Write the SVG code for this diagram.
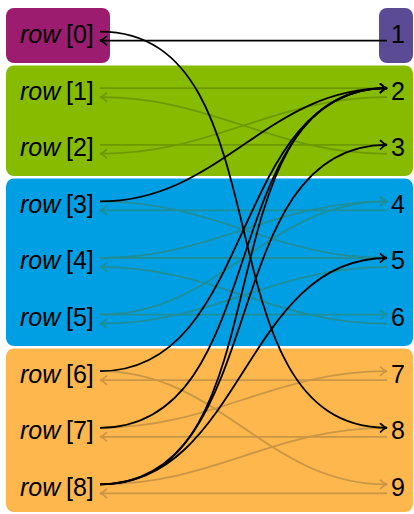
<svg xmlns="http://www.w3.org/2000/svg" width="414" height="514" viewBox="0 0 414 514">
<style>
.lbl{font-family:"Liberation Sans",Arial,sans-serif;font-size:25px;fill:#000}
.it{font-style:italic}
.num{font-family:"Liberation Sans",Arial,sans-serif;font-size:25px;fill:#000;text-anchor:middle}
.c{fill:none;stroke-width:1.8}
.k{stroke:#000}
.g{stroke:#6E9800;marker-end:url(#ag)}
.t{stroke:#1E8E98;marker-end:url(#at)}
.o{stroke:#C89646;marker-end:url(#ao)}
.k{marker-end:url(#ak)}
</style>
<defs>
<marker id="ak" markerUnits="userSpaceOnUse" orient="auto" refX="0" refY="0" overflow="visible"><path d="M-6.5,-4.2 C-4,-1.6 -1.6,-0.4 0,0 C-1.6,0.4 -4,1.6 -6.5,4.2" fill="none" stroke="#000" stroke-width="1.7" stroke-linecap="round"/></marker>
<marker id="ag" markerUnits="userSpaceOnUse" orient="auto" refX="0" refY="0" overflow="visible"><path d="M-6.5,-4.2 C-4,-1.6 -1.6,-0.4 0,0 C-1.6,0.4 -4,1.6 -6.5,4.2" fill="none" stroke="#6E9800" stroke-width="1.7" stroke-linecap="round"/></marker>
<marker id="at" markerUnits="userSpaceOnUse" orient="auto" refX="0" refY="0" overflow="visible"><path d="M-6.5,-4.2 C-4,-1.6 -1.6,-0.4 0,0 C-1.6,0.4 -4,1.6 -6.5,4.2" fill="none" stroke="#1E8E98" stroke-width="1.7" stroke-linecap="round"/></marker>
<marker id="ao" markerUnits="userSpaceOnUse" orient="auto" refX="0" refY="0" overflow="visible"><path d="M-6.5,-4.2 C-4,-1.6 -1.6,-0.4 0,0 C-1.6,0.4 -4,1.6 -6.5,4.2" fill="none" stroke="#C89646" stroke-width="1.7" stroke-linecap="round"/></marker>
</defs>
<rect width="414" height="514" fill="#fff"/>
<g id="boxes">
<rect id="box-row0" x="6" y="8" width="104" height="55" rx="8" fill="#9C1C6F"/>
<rect id="box-num1" x="379" y="8" width="34" height="55" rx="8" fill="#5B4B95"/>
<rect id="box-green" x="6" y="65.5" width="407" height="110.5" rx="8" fill="#86BB00"/>
<rect id="box-blue" x="6" y="178.5" width="407" height="167.5" rx="8" fill="#009FE3"/>
<rect id="box-orange" x="6" y="348.5" width="407" height="163.5" rx="8" fill="#FDB74C"/>
</g>
<g id="row0"><text class="lbl" x="20" y="43"><tspan class="it">row</tspan><tspan x="66">[0]</tspan></text></g>
<g id="row1"><text class="lbl" x="20" y="99.6"><tspan class="it">row</tspan><tspan x="66">[1]</tspan></text></g>
<g id="row2"><text class="lbl" x="20" y="156.2"><tspan class="it">row</tspan><tspan x="66">[2]</tspan></text></g>
<g id="row3"><text class="lbl" x="20" y="212.8"><tspan class="it">row</tspan><tspan x="66">[3]</tspan></text></g>
<g id="row4"><text class="lbl" x="20" y="269.4"><tspan class="it">row</tspan><tspan x="66">[4]</tspan></text></g>
<g id="row5"><text class="lbl" x="20" y="326"><tspan class="it">row</tspan><tspan x="66">[5]</tspan></text></g>
<g id="row6"><text class="lbl" x="20" y="382.6"><tspan class="it">row</tspan><tspan x="66">[6]</tspan></text></g>
<g id="row7"><text class="lbl" x="20" y="439.2"><tspan class="it">row</tspan><tspan x="66">[7]</tspan></text></g>
<g id="row8"><text class="lbl" x="20" y="495.8"><tspan class="it">row</tspan><tspan x="66">[8]</tspan></text></g>
<g id="num1"><text class="num" x="398" y="43">1</text></g>
<g id="num2"><text class="num" x="398" y="99.6">2</text></g>
<g id="num3"><text class="num" x="398" y="156.2">3</text></g>
<g id="num4"><text class="num" x="398" y="212.8">4</text></g>
<g id="num5"><text class="num" x="398" y="269.4">5</text></g>
<g id="num6"><text class="num" x="398" y="326">6</text></g>
<g id="num7"><text class="num" x="398" y="382.6">7</text></g>
<g id="num8"><text class="num" x="398" y="439.2">8</text></g>
<g id="num9"><text class="num" x="398" y="495.8">9</text></g>
<g id="connectors">
<path class="c g" d="M100,88.2 H387"/>
<path class="c g" d="M100,144.8 H387"/>
<path class="c g" d="M387,97.2 C272.5,97.2 214.5,153.8 100,153.8"/>
<path class="c g" d="M387,153.8 C272.5,153.8 214.5,97.2 100,97.2"/>
<path class="c t" d="M100,201.4 C214.5,201.4 272.5,258 387,258"/>
<path class="c t" d="M100,258 C214.5,258 272.5,201.4 387,201.4"/>
<path class="c t" d="M100,258 H387"/>
<path class="c t" d="M100,314.6 C220.8,314.6 266.2,201.4 387,201.4"/>
<path class="c t" d="M100,314.6 H387"/>
<path class="c t" d="M387,210.4 H100"/>
<path class="c t" d="M387,267 C272.5,267 214.5,323.6 100,323.6"/>
<path class="c t" d="M387,323.6 C272.5,323.6 214.5,267 100,267"/>
<path class="c o" d="M100,371.2 C220.8,371.2 266.2,484.4 387,484.4"/>
<path class="c o" d="M100,427.8 C214.5,427.8 272.5,371.2 387,371.2"/>
<path class="c o" d="M100,484.4 C214.5,484.4 272.5,427.8 387,427.8"/>
<path class="c o" d="M387,380.2 H100"/>
<path class="c o" d="M387,436.8 H100"/>
<path class="c o" d="M387,493.4 H100"/>
<path class="c k" d="M387,40.6 H100"/>
<path class="c k" d="M100,31.6 C291.5,31.6 195.5,427.8 387,427.8"/>
<path class="c k" d="M100,201.4 C220.8,201.4 266.2,88.2 387,88.2"/>
<path class="c k" d="M100,371.2 C257.8,371.2 229.2,88.2 387,88.2"/>
<path class="c k" d="M100,427.8 C274.1,427.8 212.9,88.2 387,88.2"/>
<path class="c k" d="M100,484.4 C291.5,484.4 195.5,88.2 387,88.2"/>
<path class="c k" d="M100,484.4 C274.1,484.4 212.9,144.8 387,144.8"/>
<path class="c k" d="M100,484.4 C243.1,484.4 243.9,258 387,258"/>
</g>
</svg>
